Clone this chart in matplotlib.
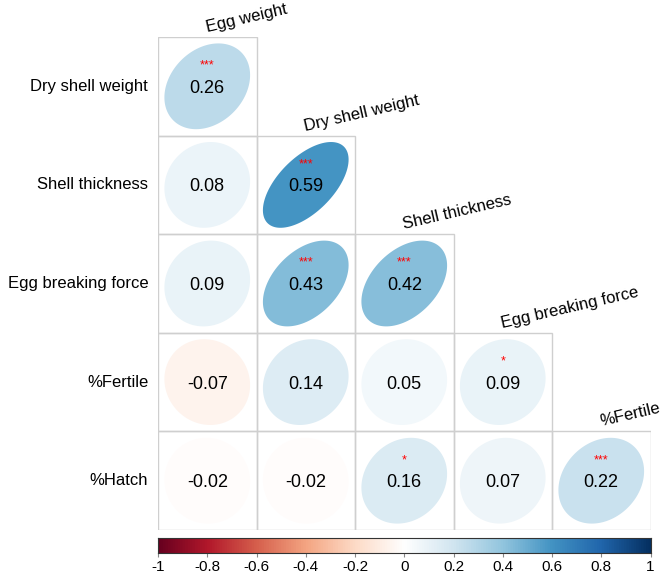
import numpy as np
import matplotlib
matplotlib.use("Agg")
import matplotlib.pyplot as plt
from matplotlib.colors import Normalize, LinearSegmentedColormap

plt.rcParams["font.family"] = ["Liberation Sans", "DejaVu Sans"]

# lower-triangle correlation matrix
row_labels = ["Dry shell weight", "Shell thickness", "Egg breaking force", "%Fertile", "%Hatch"]
col_labels = ["Egg weight", "Dry shell weight", "Shell thickness", "Egg breaking force", "%Fertile"]
corr = [
    [0.26],
    [0.08, 0.59],
    [0.09, 0.43, 0.42],
    [-0.07, 0.14, 0.05, 0.09],
    [-0.02, -0.02, 0.16, 0.07, 0.22],
]
stars = [
    ["***"],
    ["", "***"],
    ["", "***", "***"],
    ["", "", "", "*"],
    ["", "", "*", "", "***"],
]
cbar_ticks = [-1, -0.8, -0.6, -0.4, -0.2, 0, 0.2, 0.4, 0.6, 0.8, 1]

# corrplot-style RdBu ramp (white centre)
rdbu = ["#67001F", "#B2182B", "#D6604D", "#F4A582", "#FDDBC7", "#FFFFFF",
        "#D1E5F0", "#92C5DE", "#4393C3", "#2166AC", "#053061"]
cmap = LinearSegmentedColormap.from_list("rdbu_cp", rdbu, N=200)
norm = Normalize(-1, 1)
grid_col = "#cfcfcf"

W, H = 666, 578
fig = plt.figure(figsize=(W / 100, H / 100), dpi=100)
# grid area in pixels: x 158..650.5, y 37..530
ax = fig.add_axes([158 / W, 1 - 530 / H, 492.5 / W, 493 / H])
n = len(row_labels)
ax.set_xlim(0, n)
ax.set_ylim(n, 0)
ax.axis("off")

k = np.linspace(0, 2 * np.pi, 120)
rad = 0.435
for i in range(n):
    for j in range(i + 1):
        r = corr[i][j]
        ax.add_patch(plt.Rectangle((j, i), 1, 1, fill=False, ec=grid_col, lw=1.0, zorder=1))
        d = np.arccos(r)
        ex = j + 0.5 + rad * np.cos(k + d / 2)
        ey = i + 0.5 - rad * np.cos(k - d / 2)
        ax.fill(ex, ey, color=cmap(norm(r)), lw=0, zorder=2)
        ax.text(j + 0.5, i + 0.52, f"{r:.2f}", ha="center", va="center",
                fontsize=13, color="black", zorder=3)
        if stars[i][j]:
            ax.text(j + 0.5, i + 0.29, stars[i][j], ha="center", va="center",
                    fontsize=9, color="#ff0000", zorder=3)

for i, lab in enumerate(row_labels):
    ax.text(-0.1, i + 0.5, lab, ha="right", va="center", fontsize=12)

for j, lab in enumerate(col_labels):
    ax.text(j + 0.5, j - 0.05, lab, ha="left", va="baseline", rotation=13,
            rotation_mode="anchor", fontsize=12)

# colour legend
cax = fig.add_axes([158 / W, 1 - 553 / H, 492.5 / W, 15 / H])
grad = np.linspace(-1, 1, 400).reshape(1, -1)
cax.imshow(grad, cmap=cmap, norm=norm, aspect="auto", extent=(-1, 1, 0, 1))
cax.set_xlim(-1, 1)
cax.set_yticks([])
cax.set_xticks(cbar_ticks)
cax.set_xticklabels([f"{t:g}" for t in cbar_ticks], fontsize=11)
cax.tick_params(axis="x", length=3, color="#888888", pad=2)
for s in cax.spines.values():
    s.set_linewidth(0.8)
    s.set_color("#333333")

fig.savefig("out.png", dpi=100)
